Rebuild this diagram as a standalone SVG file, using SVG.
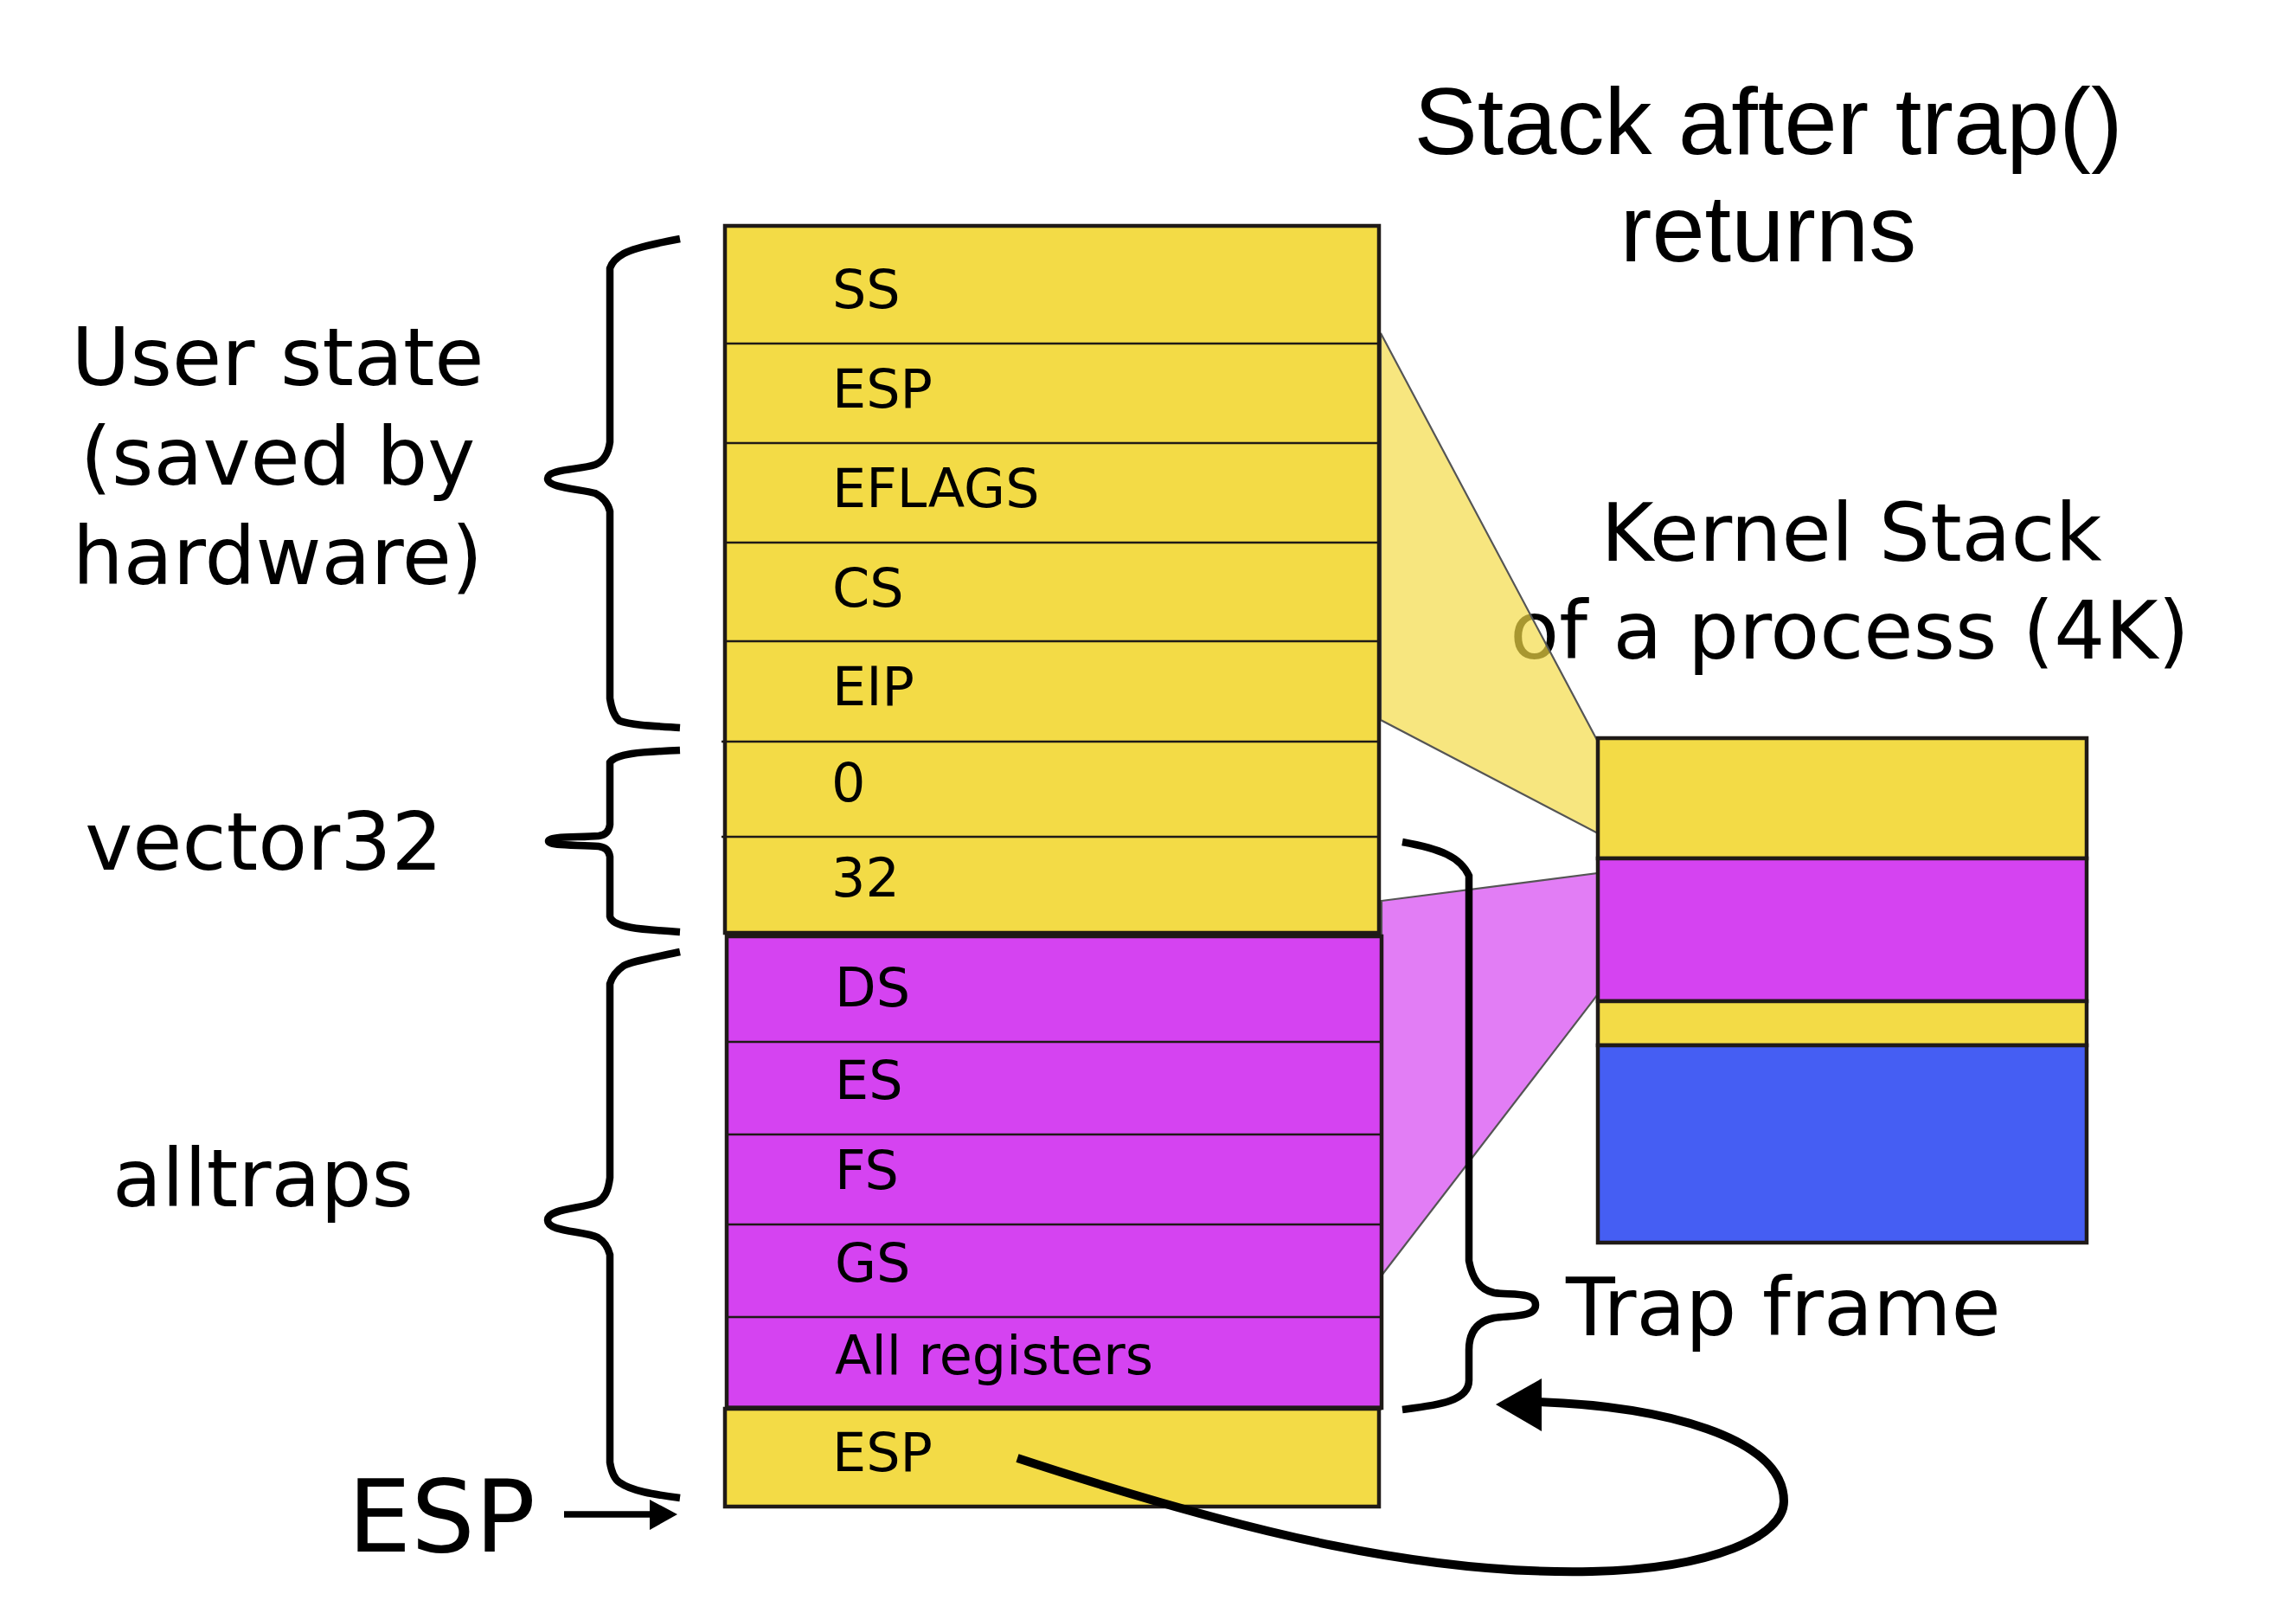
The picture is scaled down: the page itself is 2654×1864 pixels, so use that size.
<svg xmlns="http://www.w3.org/2000/svg" width="2654" height="1864" viewBox="0 0 2654 1864">
<style>
.lbl{font-family:"DejaVu Sans",sans-serif;font-size:93px;fill:#000}
.row{font-family:"DejaVu Sans",sans-serif;font-size:62px;fill:#000}
.ttl{font-family:"Liberation Sans",Arial,sans-serif;font-size:110px;fill:#000}
.brace{fill:none;stroke:#000;stroke-width:8.5;stroke-linecap:butt}
.box{stroke:#1f1a17;stroke-width:4.5}
.sep{stroke:#1f1a17;stroke-width:2.5}
.y{fill:#F3DB46}
.p{fill:#D543F1}
.b{fill:#455EF3}
.trap{stroke:#555;stroke-width:2.2;fill-opacity:0.69}
</style>
<rect width="2654" height="1864" fill="#fff"/>

<g id="title">
<text class="ttl" x="2044" y="178" text-anchor="middle">Stack after trap()</text>
<text class="ttl" x="2044" y="302" text-anchor="middle">returns</text>
</g>

<g id="label-user-state">
<text class="lbl" x="321" y="445" text-anchor="middle">User state</text>
<text class="lbl" x="321" y="560" text-anchor="middle">(saved by</text>
<text class="lbl" x="321" y="675" text-anchor="middle">hardware)</text>
</g>
<g id="label-vector32"><text class="lbl" x="305" y="1005" text-anchor="middle">vector32</text></g>
<g id="label-alltraps"><text class="lbl" x="304" y="1394" text-anchor="middle">alltraps</text></g>
<g id="label-esp"><text class="lbl" x="402" y="1793" style="font-size:116px">ESP</text></g>
<g id="label-kernel">
<text class="lbl" x="2140" y="648" text-anchor="middle">Kernel Stack</text>
<text class="lbl" x="2138" y="761" text-anchor="middle">of a process (4K)</text>
</g>
<g id="label-trapframe"><text class="lbl" x="1810" y="1543">Trap frame</text></g>

<g id="projections">
<polygon class="trap y" points="1596,385 1847,857 1847,963 1596,832"/>
<polygon class="trap p" points="1597,1041 1847,1009 1847,1149 1597,1474"/>
</g>

<g id="main-stack">
<rect class="box y" x="838" y="261" width="756" height="817"/>
<line class="sep" x1="838" y1="397" x2="1594" y2="397"/>
<line class="sep" x1="838" y1="512" x2="1594" y2="512"/>
<line class="sep" x1="838" y1="627" x2="1594" y2="627"/>
<line class="sep" x1="838" y1="741" x2="1594" y2="741"/>
<line class="sep" x1="834" y1="857" x2="1594" y2="857"/>
<line class="sep" x1="834" y1="967" x2="1594" y2="967"/>
<rect class="box p" x="840" y="1082" width="757" height="545"/>
<line class="sep" x1="840" y1="1204" x2="1597" y2="1204"/>
<line class="sep" x1="840" y1="1311" x2="1597" y2="1311"/>
<line class="sep" x1="840" y1="1415" x2="1597" y2="1415"/>
<line class="sep" x1="840" y1="1522" x2="1597" y2="1522"/>
<rect class="box y" x="838" y="1628" width="756" height="113"/>
<line x1="840" y1="1627" x2="1597" y2="1627" stroke="#1f1a17" stroke-width="5"/>
<text class="row" x="962" y="356">SS</text>
<text class="row" x="962" y="471">ESP</text>
<text class="row" x="962" y="586">EFLAGS</text>
<text class="row" x="962" y="701">CS</text>
<text class="row" x="962" y="815">EIP</text>
<text class="row" x="961" y="926">0</text>
<text class="row" x="961" y="1036">32</text>
<text class="row" x="965" y="1163">DS</text>
<text class="row" x="965" y="1270">ES</text>
<text class="row" x="965" y="1374">FS</text>
<text class="row" x="965" y="1481">GS</text>
<text class="row" x="965" y="1588">All registers</text>
<text class="row" x="962" y="1700">ESP</text>
</g>

<g id="kernel-stack">
<rect class="box y" x="1847" y="853" width="565" height="139"/>
<rect class="box p" x="1847" y="992" width="565" height="165"/>
<rect class="box y" x="1847" y="1157" width="565" height="51"/>
<rect class="box b" x="1847" y="1208" width="565" height="228"/>
</g>

<g id="connectors">
<path class="brace" d="M786,276 C748,283 730,288 721,293 C712,298 707,304 705,310 L705,511 C703,525 698,533 688,537 C670,543 633,542 633,553 C633,564 670,565 688,570 C698,575 703,582 705,591 L705,807 C707,820 710,828 716,833 C730,838 755,839 786,841"/>
<path class="brace" d="M786,867 C738,869 712,871 705,881 L705,953 C704,961 700,965 692,966 C670,968 634,966 634,972 C634,978 670,976 692,978 C700,979 704,983 705,990 L705,1059 C708,1072 740,1074 786,1077"/>
<path class="brace" d="M786,1100 C748,1108 730,1111 721,1116 C712,1122 707,1130 705,1137 L705,1361 C703,1377 699,1384 691,1389 C675,1397 633,1396 633,1410 C633,1424 675,1422 691,1430 C699,1435 703,1442 705,1450 L705,1690 C707,1702 710,1709 716,1713 C730,1723 755,1727 786,1731"/>
<path class="brace" d="M1621,973 C1665,981 1688,990 1698,1012 L1698,1457 C1702,1478 1710,1490 1727,1494 C1745,1497 1775,1492 1775,1508 C1775,1523 1745,1520 1727,1523 C1707,1527 1698,1540 1698,1560 L1698,1595 C1698,1620 1660,1624 1621,1629"/>
<line x1="652" y1="1750" x2="756" y2="1750" stroke="#000" stroke-width="7.5"/>
<polygon points="751,1733 783,1750 751,1768" fill="#000"/>
<path d="M1176,1685 C1450,1775 1650,1820 1840,1816 C1980,1813 2062,1775 2062,1735 C2062,1660 1920,1625 1778,1620" fill="none" stroke="#000" stroke-width="10"/>
<polygon points="1729,1623 1782,1593 1782,1654" fill="#000"/>
</g>
</svg>
